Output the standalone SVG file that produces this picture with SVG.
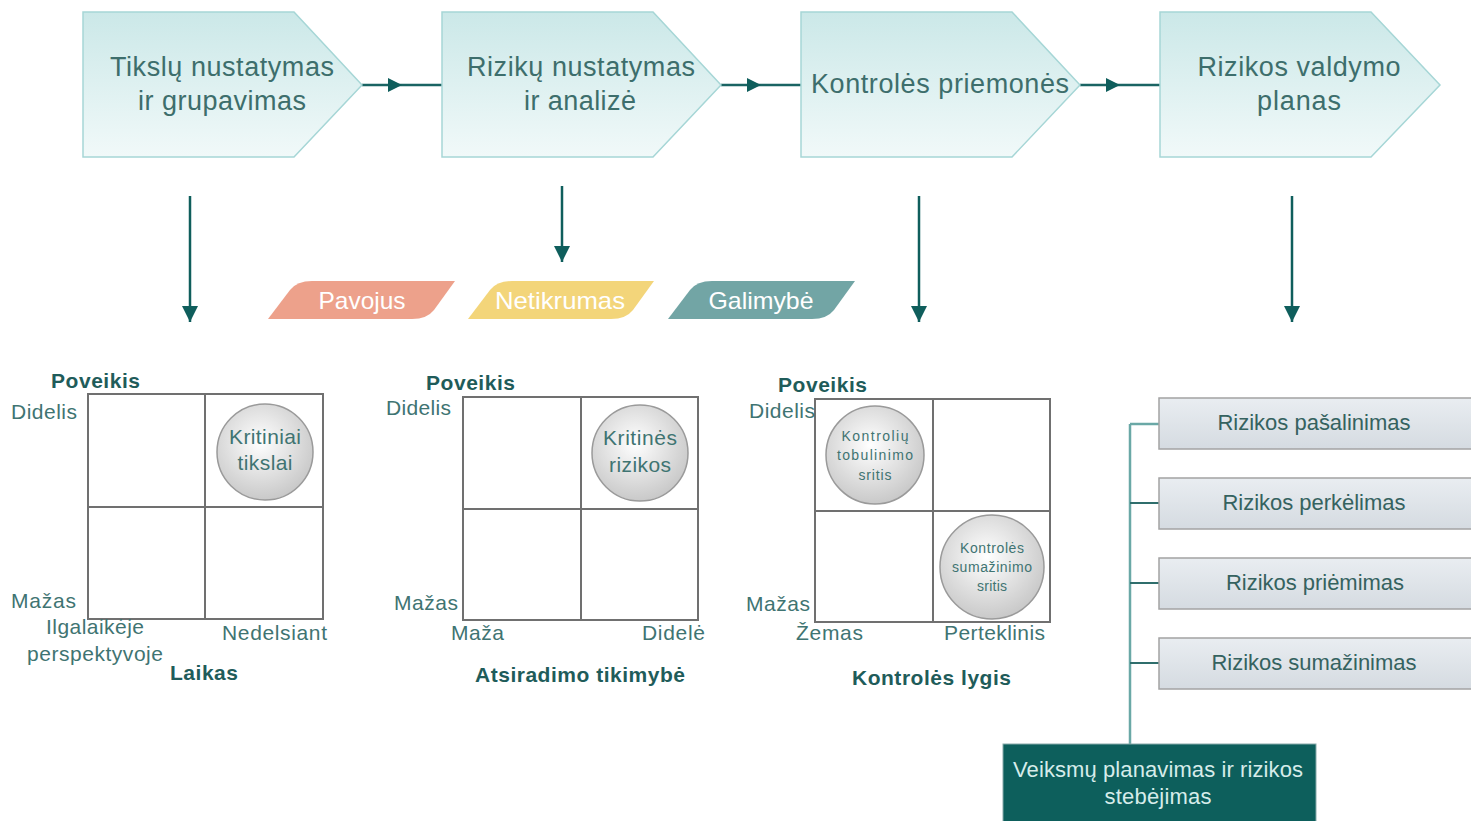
<svg xmlns="http://www.w3.org/2000/svg" width="1471" height="821" viewBox="0 0 1471 821">
<defs>
<linearGradient id="pentG" x1="0" y1="0" x2="0" y2="1">
<stop offset="0" stop-color="#cbe8e8"/>
<stop offset="1" stop-color="#f1f9f9"/>
</linearGradient>
<linearGradient id="boxG" x1="0" y1="0" x2="0" y2="1">
<stop offset="0" stop-color="#e9edf1"/>
<stop offset="1" stop-color="#d5dbe1"/>
</linearGradient>
<radialGradient id="circG" cx="0.45" cy="0.4" r="0.6">
<stop offset="0" stop-color="#ffffff"/>
<stop offset="1" stop-color="#c9c9c9"/>
</radialGradient>
<marker id="arr" markerUnits="userSpaceOnUse" markerWidth="16" markerHeight="16" refX="8" refY="8" orient="auto">
<path d="M1,1 L15,8 L1,15 Z" fill="#0f5e5c"/>
</marker>
<marker id="arrEnd" markerUnits="userSpaceOnUse" markerWidth="18" markerHeight="18" refX="17" refY="9" orient="auto">
<path d="M1,1 L17,9 L1,17 Z" fill="#0f5e5c"/>
</marker>
</defs>
<style>
.pent{fill:url(#pentG);stroke:#a6d6d6;stroke-width:1.5}
.tt{font-family:"Liberation Sans",Arial,sans-serif;font-size:27px;fill:#3d6e6c;text-anchor:middle}
.tag{font-family:"Liberation Sans",Arial,sans-serif;font-size:24px;fill:#ffffff;text-anchor:middle}
.lb{font-family:"Liberation Sans",Arial,sans-serif;font-size:21px;fill:#3f7472}
.bd{font-family:"Liberation Sans",Arial,sans-serif;font-size:21px;font-weight:bold;fill:#1f5c5a}
.ci{font-family:"Liberation Sans",Arial,sans-serif;font-size:21px;fill:#3f7472;text-anchor:middle}
.cs{font-family:"Liberation Sans",Arial,sans-serif;font-size:14px;fill:#3f7472;text-anchor:middle}
.grid{fill:none;stroke:#707070;stroke-width:2}
.circ{fill:url(#circG);stroke:#9a9a9a;stroke-width:1.5}
.rbox{fill:url(#boxG);stroke:#a3a3a3;stroke-width:1.5}
.rt{font-family:"Liberation Sans",Arial,sans-serif;font-size:22px;fill:#35625f;text-anchor:middle}
.flow{fill:none;stroke:#1a6463;stroke-width:2.5}
.down{fill:none;stroke:#0f5e5c;stroke-width:2.5}
.tree{fill:none;stroke:#6aa8a6;stroke-width:2.5}
.stub{fill:none;stroke:#2f6e6c;stroke-width:2}
</style>

<g id="connectors">
<path class="flow" d="M362,85 L395,85 L442,85" marker-mid="url(#arr)"/>
<path class="flow" d="M721,85 L754,85 L801,85" marker-mid="url(#arr)"/>
<path class="flow" d="M1080,85 L1113,85 L1160,85" marker-mid="url(#arr)"/>
<path class="down" d="M190,196 L190,322" marker-end="url(#arrEnd)"/>
<path class="down" d="M562,186 L562,262" marker-end="url(#arrEnd)"/>
<path class="down" d="M919,196 L919,322" marker-end="url(#arrEnd)"/>
<path class="down" d="M1292,196 L1292,322" marker-end="url(#arrEnd)"/>
<path class="tree" d="M1130,424 L1130,744"/>
<path class="tree" d="M1130,424 L1159,424"/>
<path class="stub" d="M1130,503 L1159,503"/>
<path class="stub" d="M1130,583 L1159,583"/>
<path class="stub" d="M1130,663 L1159,663"/>
</g>

<g id="step1">
<path class="pent" d="M83,12 H294 L362,85 L294,157 H83 Z"/>
<text class="tt" x="222" y="76" textLength="224" lengthAdjust="spacing">Tikslų nustatymas</text>
<text class="tt" x="222" y="110" textLength="168" lengthAdjust="spacing">ir grupavimas</text>
</g>
<g id="step2">
<path class="pent" d="M442,12 H653 L721,85 L653,157 H442 Z"/>
<text class="tt" x="581" y="76" textLength="228" lengthAdjust="spacing">Rizikų nustatymas</text>
<text class="tt" x="580" y="110" textLength="112" lengthAdjust="spacing">ir analizė</text>
</g>
<g id="step3">
<path class="pent" d="M801,12 H1012 L1080,85 L1012,157 H801 Z"/>
<text class="tt" x="940" y="93" textLength="258" lengthAdjust="spacing">Kontrolės priemonės</text>
</g>
<g id="step4">
<path class="pent" d="M1160,12 H1371 L1440,85 L1371,157 H1160 Z"/>
<text class="tt" x="1299" y="76" textLength="203" lengthAdjust="spacing">Rizikos valdymo</text>
<text class="tt" x="1299" y="110" textLength="84" lengthAdjust="spacing">planas</text>
</g>

<g id="tag-pavojus">
<path d="M268,319 L290,290 Q297,281 312,281 L455,281 L434,310 Q427,319 412,319 Z" fill="#eda18b"/>
<text class="tag" x="362" y="309" textLength="87" lengthAdjust="spacingAndGlyphs">Pavojus</text>
</g>
<g id="tag-netikrumas">
<path d="M468,319 L490,290 Q497,281 512,281 L654,281 L633,310 Q626,319 611,319 Z" fill="#f3d57a"/>
<text class="tag" x="560" y="309" textLength="130" lengthAdjust="spacingAndGlyphs">Netikrumas</text>
</g>
<g id="tag-galimybe">
<path d="M668,319 L690,290 Q697,281 712,281 L855,281 L834,310 Q827,319 812,319 Z" fill="#72a5a5"/>
<text class="tag" x="761" y="309" textLength="105" lengthAdjust="spacingAndGlyphs">Galimybė</text>
</g>

<g id="matrix1">
<rect class="grid" x="88" y="394" width="235" height="225"/>
<path class="grid" d="M205,394 V619 M88,507 H323"/>
<circle class="circ" cx="265" cy="452" r="48"/>
<text class="ci" x="265" y="444" textLength="72" lengthAdjust="spacing">Kritiniai</text>
<text class="ci" x="265" y="470" textLength="55" lengthAdjust="spacing">tikslai</text>
<text class="bd" x="51" y="388" textLength="89" lengthAdjust="spacing">Poveikis</text>
<text class="lb" x="11" y="419" textLength="66" lengthAdjust="spacing">Didelis</text>
<text class="lb" x="11" y="608" textLength="65" lengthAdjust="spacing">Mažas</text>
<text class="lb" x="46" y="634" textLength="98" lengthAdjust="spacing">Ilgalaikėje</text>
<text class="lb" x="27" y="661" textLength="136" lengthAdjust="spacing">perspektyvoje</text>
<text class="lb" x="222" y="640" textLength="105" lengthAdjust="spacing">Nedelsiant</text>
<text class="bd" x="170" y="680" textLength="68" lengthAdjust="spacing">Laikas</text>
</g>

<g id="matrix2">
<rect class="grid" x="463" y="397" width="235" height="223"/>
<path class="grid" d="M581,397 V620 M463,509 H698"/>
<circle class="circ" cx="640" cy="453" r="48"/>
<text class="ci" x="640" y="445" textLength="74" lengthAdjust="spacing">Kritinės</text>
<text class="ci" x="640" y="472" textLength="62" lengthAdjust="spacing">rizikos</text>
<text class="bd" x="426" y="390" textLength="89" lengthAdjust="spacing">Poveikis</text>
<text class="lb" x="386" y="415" textLength="65" lengthAdjust="spacing">Didelis</text>
<text class="lb" x="394" y="610" textLength="64" lengthAdjust="spacing">Mažas</text>
<text class="lb" x="451" y="640" textLength="53" lengthAdjust="spacing">Maža</text>
<text class="lb" x="642" y="640" textLength="63" lengthAdjust="spacing">Didelė</text>
<text class="bd" x="475" y="682" textLength="210" lengthAdjust="spacing">Atsiradimo tikimybė</text>
</g>

<g id="matrix3">
<rect class="grid" x="815" y="399" width="235" height="223"/>
<path class="grid" d="M933,399 V622 M815,511 H1050"/>
<circle class="circ" cx="875" cy="455" r="49"/>
<text class="cs" x="875" y="441" textLength="67" lengthAdjust="spacing">Kontrolių</text>
<text class="cs" x="875" y="460" textLength="76" lengthAdjust="spacing">tobulinimo</text>
<text class="cs" x="875" y="480" textLength="33" lengthAdjust="spacing">sritis</text>
<circle class="circ" cx="992" cy="567" r="52"/>
<text class="cs" x="992" y="553" textLength="64" lengthAdjust="spacing">Kontrolės</text>
<text class="cs" x="992" y="572" textLength="80" lengthAdjust="spacing">sumažinimo</text>
<text class="cs" x="992" y="591" textLength="30" lengthAdjust="spacing">sritis</text>
<text class="bd" x="778" y="392" textLength="89" lengthAdjust="spacing">Poveikis</text>
<text class="lb" x="749" y="418" textLength="66" lengthAdjust="spacing">Didelis</text>
<text class="lb" x="746" y="611" textLength="64" lengthAdjust="spacing">Mažas</text>
<text class="lb" x="796" y="640" textLength="67" lengthAdjust="spacing">Žemas</text>
<text class="lb" x="944" y="640" textLength="101" lengthAdjust="spacing">Perteklinis</text>
<text class="bd" x="852" y="685" textLength="159" lengthAdjust="spacing">Kontrolės lygis</text>
</g>

<g id="opt1">
<rect class="rbox" x="1159" y="398" width="320" height="51"/>
<text class="rt" x="1314" y="430" textLength="193" lengthAdjust="spacing">Rizikos pašalinimas</text>
</g>
<g id="opt2">
<rect class="rbox" x="1159" y="478" width="320" height="51"/>
<text class="rt" x="1314" y="510" textLength="183" lengthAdjust="spacing">Rizikos perkėlimas</text>
</g>
<g id="opt3">
<rect class="rbox" x="1159" y="558" width="320" height="51"/>
<text class="rt" x="1315" y="590" textLength="178" lengthAdjust="spacing">Rizikos priėmimas</text>
</g>
<g id="opt4">
<rect class="rbox" x="1159" y="638" width="320" height="51"/>
<text class="rt" x="1314" y="670" textLength="205" lengthAdjust="spacing">Rizikos sumažinimas</text>
</g>

<g id="monitoring">
<rect x="1003" y="744" width="313" height="80" fill="#0d5f5c" stroke="#8aa" stroke-width="1"/>
<text class="rt" x="1158" y="777" style="fill:#d6ecea" textLength="290" lengthAdjust="spacing">Veiksmų planavimas ir rizikos</text>
<text class="rt" x="1158" y="804" style="fill:#d6ecea" textLength="107" lengthAdjust="spacing">stebėjimas</text>
</g>
</svg>
